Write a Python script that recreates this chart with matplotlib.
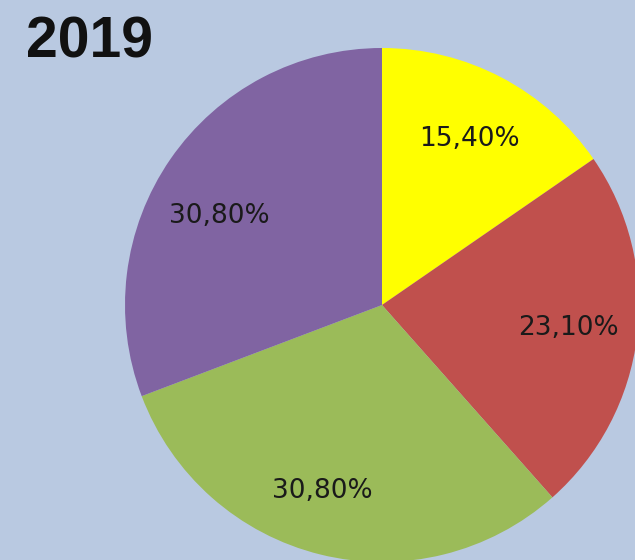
import numpy as np
import matplotlib.pyplot as plt

plt.switch_backend("Agg")

title = "2019"
shares = [15.4, 23.1, 30.8, 30.8]
colors = ["#FFFF00", "#C0504D", "#9BBB59", "#8064A2"]
# label placement inside each wedge: radius fraction and angle nudge (deg)
label_dist = [0.73, 0.73, 0.76, 0.72]
label_nudge = [0, 0, -4, 6]

BG = "#B9C9E1"
W, H = 635, 560

fig = plt.figure(figsize=(W / 100, H / 100), dpi=100, facecolor=BG)
ax = fig.add_axes([0, 0, 1, 1])
ax.set_facecolor(BG)

cx, cy, r = 382, H - 305, 257
wedges, _ = ax.pie(
    shares,
    colors=colors,
    startangle=90,
    counterclock=False,
    center=(cx, cy),
    radius=r,
    frame=True,
    wedgeprops={"linewidth": 0},
)
ax.set_xlim(0, W)
ax.set_ylim(0, H)
ax.set_aspect("equal")
ax.axis("off")

for w, v, d, n in zip(wedges, shares, label_dist, label_nudge):
    ang = np.deg2rad((w.theta1 + w.theta2) / 2 + n)
    ax.text(
        cx + d * r * np.cos(ang),
        cy + d * r * np.sin(ang),
        f"{v:.2f}%".replace(".", ","),
        ha="center",
        va="center",
        fontsize=19,
        family="DejaVu Sans",
        color="#1a1a1a",
    )

fig.text(26 / W, 1 - 43 / H, title, ha="left", va="center",
         fontsize=41, fontweight="bold", family="Liberation Sans", color="#111111")

fig.savefig("out.png", dpi=100, facecolor=BG)
